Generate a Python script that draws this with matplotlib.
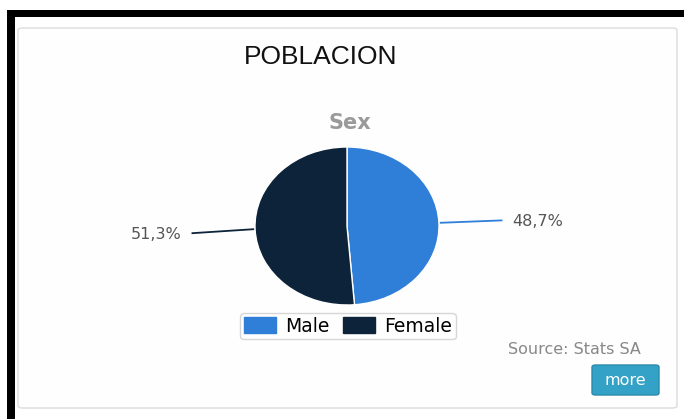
import numpy as np
import matplotlib.pyplot as plt
from matplotlib.patches import Rectangle, FancyBboxPatch, Patch

# data
categories = ["Male", "Female"]
shares = [48.7, 51.3]
colors = ["#2f7ed8", "#0d233a"]
title = "POBLACION"
subtitle = "Sex"
source = "Source: Stats SA"

W, H = 684, 419
fig = plt.figure(figsize=(W / 100, H / 100), dpi=100)
fig.patch.set_facecolor("white")


def fx(px):
    return px / W


def fy(py):
    return 1 - py / H


# black frame (top + left)
fig.add_artist(Rectangle((fx(7), fy(17)), 1 - fx(7), fy(10) - fy(17),
                         transform=fig.transFigure, color="black", lw=0, zorder=-1))
fig.add_artist(Rectangle((fx(7), 0), fx(15) - fx(7), fy(10),
                         transform=fig.transFigure, color="black", lw=0, zorder=-1))

# inner panel
fig.add_artist(FancyBboxPatch((fx(18), fy(408)), fx(677) - fx(18), fy(28) - fy(408),
                              boxstyle="round,pad=0,rounding_size=0.006",
                              transform=fig.transFigure, facecolor="#fefefe",
                              edgecolor="#dcdcdc", lw=1, zorder=-1))

fig.text(fx(321), fy(57), title, ha="center", va="center", fontsize=19,
         family="Liberation Sans", color="#111111")
fig.text(fx(350), fy(123), subtitle, ha="center", va="center", fontsize=15,
         fontweight="bold", color="#9a9a9a")

# pie (slightly stretched horizontally like the reference)
cx, cy, rx, ry = 347, 226, 92, 79
ax = fig.add_axes([fx(cx - rx), fy(cy + ry), 2 * rx / W, 2 * ry / H])
ax.set_zorder(2)
wedges, _ = ax.pie(shares, colors=colors, startangle=90, counterclock=False,
                   wedgeprops=dict(edgecolor="white", linewidth=1))
ax.set_xlim(-1, 1)
ax.set_ylim(-1, 1)
ax.set_aspect("auto")
ax.axis("off")

# data labels with connectors
for w, val, col in zip(wedges, shares, colors):
    mid = np.deg2rad((w.theta1 + w.theta2) / 2)
    x0, y0 = np.cos(mid), np.sin(mid)
    side = np.sign(x0)
    x1 = side * 1.68
    y1 = y0 + side * 0.03 - (0.02 if side < 0 else 0)
    ax.plot([x0 * 1.02, x1], [y0, y1], color=col, lw=1.3, clip_on=False)
    lab = f"{val:.1f}%".replace(".", ",")
    ax.text(x1 + side * 0.12, y1 - 0.02, lab, ha="left" if side > 0 else "right",
            va="center", fontsize=11.5, color="#555555", clip_on=False)

# legend
handles = [Patch(facecolor=c, edgecolor=c, label=l) for c, l in zip(colors, categories)]
leg = fig.legend(handles=handles, loc="center", bbox_to_anchor=(fx(348), fy(326)),
                 ncol=2, frameon=True, fontsize=13.5, handlelength=1.7, handleheight=0.9,
                 columnspacing=0.7, handletextpad=0.5, borderpad=0.2, borderaxespad=0)
leg.set_zorder(3)
leg.get_frame().set_edgecolor("#cccccc")
leg.get_frame().set_linewidth(1)

fig.text(fx(574), fy(349), source, ha="center", va="center", fontsize=11.5, color="#888888")

# "more" button
fig.add_artist(FancyBboxPatch((fx(592), fy(395)), fx(659) - fx(592), fy(365) - fy(395),
                              boxstyle="round,pad=0,rounding_size=0.005",
                              transform=fig.transFigure, facecolor="#34a2c6",
                              edgecolor="#2a8aab", lw=1))
fig.text(fx(625), fy(380), "more", ha="center", va="center", fontsize=11.5, color="white")

fig.savefig("out.png", dpi=100)
